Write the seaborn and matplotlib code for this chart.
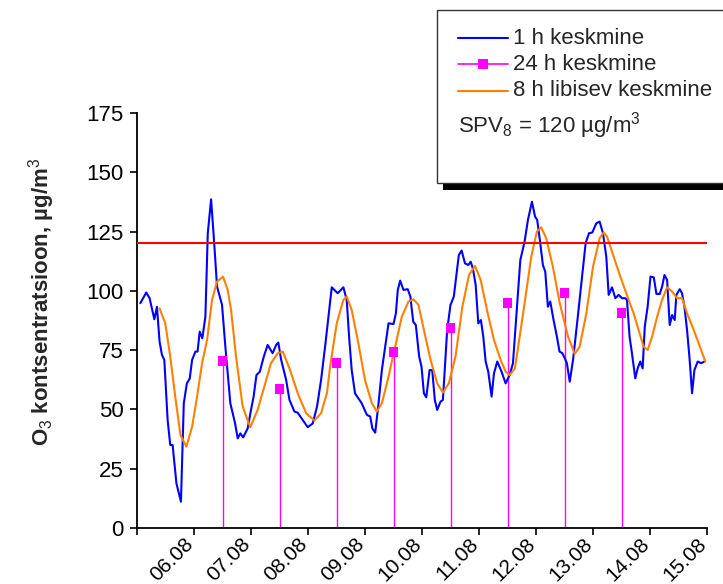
import numpy as np
import pandas as pd
import matplotlib
matplotlib.use('Agg')
import matplotlib.pyplot as plt
import seaborn as sns
from matplotlib.patches import Rectangle
from matplotlib.lines import Line2D

sns.set_style('ticks')
plt.rcParams['font.family'] = ['Liberation Sans', 'DejaVu Sans']
plt.rcParams['mathtext.fontset'] = 'custom'
plt.rcParams['mathtext.rm'] = 'Liberation Sans'
plt.rcParams['mathtext.it'] = 'Liberation Sans:italic'
plt.rcParams['mathtext.bf'] = 'Liberation Sans:bold'

# ---- data (hours since 05.08 00:00) ----
hour_1h = [1.4, 3.9, 5.3, 7.3, 8.4, 9.5, 10.5, 11.5, 12.9, 14.0, 15.0, 16.6, 18.5, 19.7, 21.0, 22.2, 23.2,
           24.6, 25.5, 26.4, 27.5, 28.8, 29.8, 31.2, 32.6, 33.7, 35.8, 37.2, 39.3,
           41.3, 42.4, 43.5, 44.7, 46.6, 48.0, 49.1, 50.3, 51.7, 53.4, 55.0, 57.1, 58.6, 59.5, 60.7, 62.8,
           64.2, 66.3, 67.7, 69.8, 71.9, 74.0, 75.8, 77.5,
           79.2, 80.6, 82.0, 83.1, 84.5, 86.9, 88.3, 89.3, 90.4, 91.8, 93.2, 94.6, 96.8, 98.2, 99.1, 100.3,
           101.7, 103.1, 104.5, 105.9, 108.0, 109.0, 109.8, 110.8, 112.2, 114.0, 115.1, 116.3, 117.4, 118.8,
           119.8, 120.8, 121.8, 123.2, 124.3, 125.4, 126.4, 127.8, 128.8, 130.6, 132.0, 133.4, 134.4, 135.5,
           136.7, 138.1, 139.5, 140.5, 141.4, 142.6, 143.7, 144.8, 145.8, 146.8, 147.9, 149.3, 150.3, 151.7,
           153.5, 155.2, 156.9,
           158.3, 159.7, 161.4, 163.2, 164.6, 166.3, 167.6, 168.5, 169.8, 170.9, 171.9, 173.0, 174.0, 175.4,
           176.8, 177.9, 179.1, 180.1, 181.0, 182.2, 183.6, 185.3, 187.1, 188.9, 190.3, 191.7, 193.4, 194.8,
           196.2, 197.6,
           198.6, 200.0, 201.4, 202.8, 204.2, 205.6, 206.3, 207.4, 208.4, 209.8, 210.8, 211.9, 212.9, 213.8,
           215.0, 216.2, 217.6, 218.7, 220.1, 221.1, 222.1, 223.2, 224.3, 225.3, 226.4, 227.1, 228.5, 229.5,
           230.5, 231.6, 232.7, 233.7, 234.7, 236.1, 237.5, 238.9]
o3_1h = [94.8, 99.3, 96.9, 88.0, 93.3, 78.6, 73.0, 70.9, 45.5, 35.0, 35.0, 18.8, 11.1, 52.6, 61.0, 63.0, 70.9,
         74.4, 74.4, 82.8, 80.0, 89.1, 124.3, 138.6, 118.7, 101.8, 94.1, 76.5, 52.6,
         44.1, 37.8, 39.9, 38.2, 42.0, 49.8, 55.4, 64.5, 65.9, 72.3, 77.2, 73.7, 77.2, 78.2, 70.9, 62.4,
         54.0, 49.1, 48.6, 45.5, 42.5, 44.1, 51.2, 62.4,
         76.5, 89.1, 101.5, 100.4, 99.0, 101.5, 96.2, 80.7, 66.6, 56.8, 54.7, 52.6, 47.7, 47.0, 42.0, 40.2,
         52.6, 66.6, 76.5, 86.3, 86.0, 90.5, 100.4, 104.3, 100.4, 100.7, 97.6, 87.0, 85.6, 72.3,
         68.0, 56.8, 55.1, 66.6, 66.6, 54.0, 49.8, 53.3, 54.0, 83.5, 94.1, 97.6, 106.0, 115.1,
         117.0, 111.6, 110.9, 112.3, 109.5, 102.5, 86.3, 87.7, 80.7, 70.2, 65.9, 55.4, 65.2, 70.2,
         65.9, 61.0, 64.5,
         69.5, 89.1, 113.0, 120.8, 129.9, 137.6, 131.3, 129.9, 120.1, 110.9, 108.1, 93.3, 95.5, 87.7,
         80.7, 74.4, 73.7, 71.6, 69.5, 61.7, 70.9, 86.3, 103.2, 120.1, 124.3, 124.6, 128.5, 129.2,
         124.3, 114.4,
         98.3, 101.5, 96.9, 98.3, 96.9, 96.9, 96.2, 80.7, 73.7, 63.1, 67.3, 70.2, 67.3, 84.9,
         93.3, 106.0, 105.7, 98.7, 98.7, 101.8, 106.7, 104.6, 85.6, 89.8, 87.7, 98.3, 100.7, 99.0,
         93.3, 83.5, 70.9, 56.8, 66.6, 70.2, 69.5, 70.2]

hour_8h = [9.5, 11.9, 14.0, 16.1, 18.3, 20.8, 23.2, 25.3, 27.4, 29.5, 31.6, 33.7, 36.2, 38.2, 39.6, 41.7,
           44.5, 47.7, 50.8, 53.6, 56.4, 59.3, 61.4, 64.2, 67.7, 71.2, 74.7, 77.5, 80.0,
           81.3, 84.1, 86.9, 88.3, 90.4, 93.2, 96.0, 98.9, 101.0, 103.1, 105.9, 108.7, 111.5, 114.3, 116.4,
           118.5, 120.8, 123.6, 126.4, 128.8, 131.3, 134.1, 137.0, 139.8, 142.3, 144.7, 147.5, 150.3, 153.1,
           155.2, 156.9, 159.1,
           160.4, 163.2, 166.0, 168.4, 170.2, 172.3, 175.1, 178.0, 181.5, 184.3, 186.4, 189.2, 192.0, 194.8,
           196.5, 197.9, 200.7, 203.5, 207.0, 209.1, 211.2, 213.3, 215.0, 216.9, 219.0, 221.1, 223.2, 225.3,
           227.4, 229.5, 231.6, 234.4, 236.5, 239.3]
o3_8h = [92.6, 86.3, 72.3, 55.4, 39.2, 34.3, 42.7, 55.4, 69.5, 79.3, 96.2, 103.9, 106.0, 100.4, 92.0, 72.3,
         51.2, 42.5, 49.8, 59.6, 69.5, 73.7, 74.4, 67.3, 56.8, 48.4, 45.3, 48.4, 57.0,
         68.0, 86.3, 96.2, 97.6, 91.9, 77.9, 62.4, 52.6, 49.1, 52.6, 63.8, 76.5, 89.1, 95.5, 96.4,
         94.1, 83.5, 70.9, 61.0, 57.1, 61.0, 72.3, 93.3, 106.7, 110.5, 104.6, 91.2, 79.3, 70.9,
         65.9, 64.5, 67.3,
         75.8, 94.8, 114.4, 125.0, 126.8, 122.2, 110.2, 94.8, 80.7, 73.4, 76.5, 90.5, 110.2, 122.2,
         124.6, 122.9, 114.4, 106.0, 96.2, 90.5, 83.5, 76.5, 75.1, 80.7, 89.1, 96.2, 101.5, 99.7,
         96.9, 96.9, 90.5, 83.5, 77.9, 70.2]

hour_24h = [36, 60, 84, 108, 132, 156, 180, 204]
o3_24h = [70.4, 58.6, 69.6, 74.2, 84.4, 94.9, 99.1, 90.7]

limit_value = 120
tick_hours = [0, 24, 48, 72, 96, 120, 144, 168, 192, 216, 240]
tick_labels = ['', '06.08', '07.08', '08.08', '09.08', '10.08', '11.08', '12.08', '13.08', '14.08', '15.08']
y_ticks = [0, 25, 50, 75, 100, 125, 150, 175]

legend_labels = ['1 h keskmine', '24 h keskmine', '8 h libisev keskmine']
spv_text = 'SPV$_8$ = 120 µg/m$^3$'
y_label = 'O$_3$ kontsentratsioon, µg/m$^3$'

BLUE = '#0000FF'
ORANGE = '#FF8000'
MAGENTA = '#FF00FF'
RED = '#FF0000'
FS = 16

W, H = 723, 584
fig = plt.figure(figsize=(W / 100, H / 100), dpi=100)
ax = fig.add_axes([137 / W, 1 - 528 / H, 570 / W, 415 / H])

df1 = pd.DataFrame({'h': hour_1h, 'v': o3_1h})
df8 = pd.DataFrame({'h': hour_8h, 'v': o3_8h})
df24 = pd.DataFrame({'h': hour_24h, 'v': o3_24h})

ax.vlines(df24['h'], 0, df24['v'], color=MAGENTA, lw=1.0, zorder=2)
sns.lineplot(data=df1, x='h', y='v', ax=ax, color=BLUE, lw=1.5, estimator=None, sort=False, zorder=3)
sns.lineplot(data=df8, x='h', y='v', ax=ax, color=ORANGE, lw=1.5, estimator=None, sort=False, zorder=4)
sns.scatterplot(data=df24, x='h', y='v', ax=ax, marker='s', color=MAGENTA, s=48, edgecolor='none',
                linewidth=0, zorder=5)
ax.axhline(limit_value, color=RED, lw=1.5, zorder=4)

ax.set_xlim(0, 240)
ax.set_ylim(0, 175)
ax.set_xticks(tick_hours)
ax.set_xticklabels(tick_labels, rotation=45, ha='right', va='baseline', rotation_mode='anchor', fontsize=15)
ax.set_yticks(y_ticks)
ax.set_yticklabels([str(t) for t in y_ticks], fontsize=FS)
ax.tick_params(axis='both', direction='out', length=5, width=1.2, colors='black')
ax.tick_params(axis='x', pad=7.5)
ax.tick_params(axis='y', pad=4.5)
for s in ['top', 'right']:
    ax.spines[s].set_visible(False)
for s in ['left', 'bottom']:
    ax.spines[s].set_linewidth(1.3)
    ax.spines[s].set_color('black')
ax.set_xlabel('')
ax.set_ylabel(y_label, fontsize=FS, fontweight='bold')
ax.yaxis.set_label_coords(-0.14, 0.545)

# ---- legend box (drawn in figure pixels) ----
def fx(px):
    return px / W

def fy(py):
    return 1 - py / H

shadow = Rectangle((fx(443), fy(190)), fx(740) - fx(443), fy(16) - fy(190), transform=fig.transFigure,
                   facecolor='black', edgecolor='none', zorder=9)
box = Rectangle((fx(437), fy(183)), fx(740) - fx(437), fy(10) - fy(183), transform=fig.transFigure,
                facecolor='white', edgecolor='#333333', lw=1.0, zorder=10)
fig.patches.extend([shadow, box])

rows = [38, 64, 91]
colors = [BLUE, MAGENTA, ORANGE]
for r, c, lab in zip(rows, colors, legend_labels):
    fig.lines.append(Line2D([fx(458), fx(508)], [fy(r), fy(r)], transform=fig.transFigure, color=c,
                            lw=1.5 if c != MAGENTA else 1.2, zorder=11))
    fig.text(fx(513), fy(r), lab, ha='left', va='center', fontsize=FS, zorder=12)
fig.lines.append(Line2D([fx(483)], [fy(64)], transform=fig.transFigure, marker='s', markersize=7,
                        color=MAGENTA, markeredgewidth=0, zorder=12))
fig.text(fx(458), fy(126), spv_text, ha='left', va='center', fontsize=FS, zorder=12)

fig.savefig('out.png', dpi=100)
